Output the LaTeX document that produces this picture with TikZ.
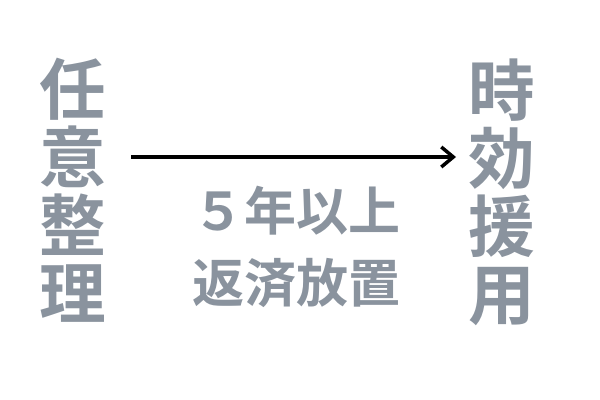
\documentclass[tikz,border=0pt]{standalone}
\usepackage{fontspec}
\newfontfamily\cjk{Noto Sans CJK JP Bold}
\usetikzlibrary{arrows.meta}
\definecolor{labelgrey}{RGB}{138,147,158}

\begin{document}
\begin{tikzpicture}[x=0.75pt,y=0.75pt,yscale=-1,xscale=1]
    \useasboundingbox (0,0) rectangle (600,400);
    \tikzset{
        column/.style={text=labelgrey, inner sep=0pt, align=center, font=\cjk\fontsize{50pt}{51pt}\selectfont},
        midtext/.style={text=labelgrey, inner sep=0pt, align=center, font=\cjk\fontsize{39pt}{54pt}\selectfont}
    }
    
    % Text Node
    \node [column] (left) at (73,190) {任\\意\\整\\理};
    % Text Node
    \node [column] (right) at (502,192) {時\\効\\援\\用};
    % Text Node
    \node [midtext] (cond) at (296,247) {５年以上\\返済放置};
    
    %Straight Lines
    \coordinate (from) at (131,157);
    \coordinate (to) at (456,157);
    \draw [line width=2.6pt, -{Straight Barb[length=9pt,width=15pt,line width=2.6pt]}] (from) -- (to);
\end{tikzpicture}
\end{document}
